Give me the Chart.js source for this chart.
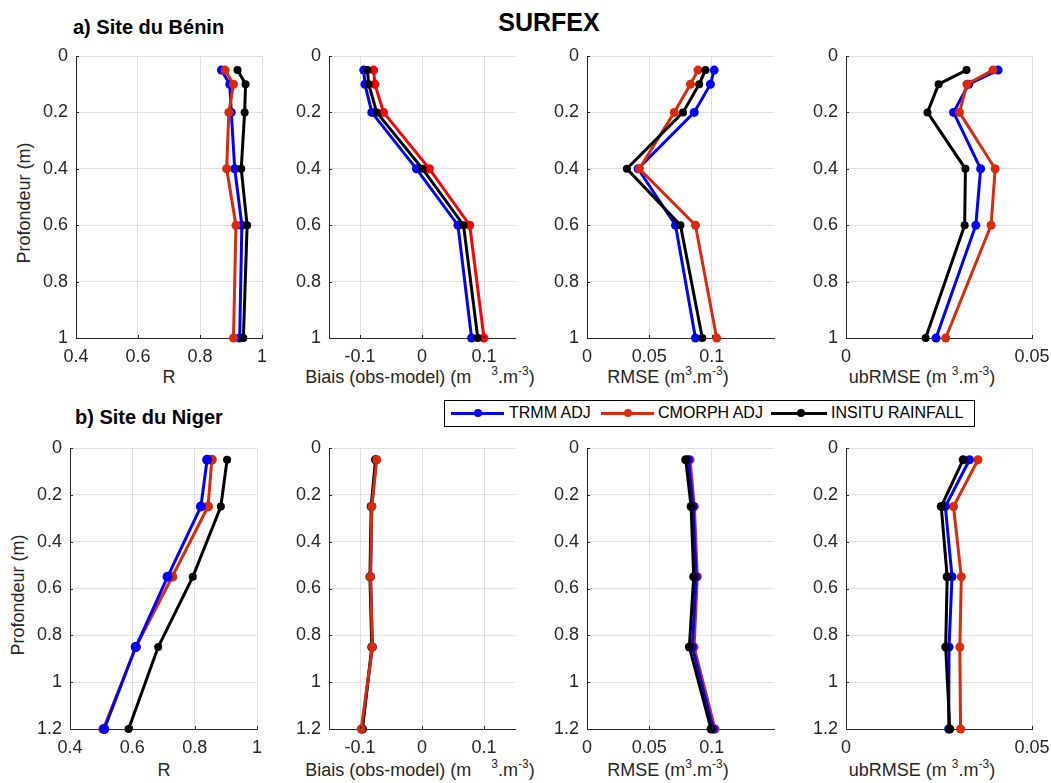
<!DOCTYPE html>
<html>
<head>
<meta charset="utf-8">
<script src="https://cdn.jsdelivr.net/npm/chart.js@4/dist/chart.umd.min.js"></script>
<style>
body { margin:0; background:#fff; width:1051px; height:783px; overflow:hidden; position:relative;
       font-family:"Liberation Sans", Arial, sans-serif; color:#262626; }
canvas { position:absolute; }
.t { position:absolute; white-space:nowrap; transform:translate(-50%,-50%); }
.big { font-weight:bold; font-size:25px; color:#000; }
.sub { font-weight:bold; font-size:20px; color:#000; transform:translate(0,-50%); }
.xl { font-size:18px; }
.yl { font-size:18px; transform:translate(-50%,-50%) rotate(-90deg); }
.sup { font-size:12px; position:relative; top:-8px; }
#legend { position:absolute; left:444px; top:400px; width:531px; height:27px; border:1px solid #000;
          box-sizing:border-box; background:#fff; font-size:16px; color:#000; }
#legend .ln { position:absolute; height:3px; top:11px; }
#legend .dot { position:absolute; width:8px; height:8px; border-radius:50%; top:8px; }
#legend .lb { position:absolute; top:3px; }
</style>
</head>
<body>
<div class="t big" style="left:549px;top:22px">SURFEX</div>
<div class="t sub" style="left:73px;top:27px">a) Site du Bénin</div>
<div class="t sub" style="left:75px;top:417px">b) Site du Niger</div>

<div class="t yl" style="left:24px;top:203px">Profondeur (m)</div>
<div class="t yl" style="left:18px;top:595px">Profondeur (m)</div>

<div class="t xl" style="left:169px;top:377px">R</div>
<div class="t xl" style="left:420px;top:377px">Biais (obs-model) (m&nbsp;&nbsp;&nbsp;&nbsp;<span class="sup">3</span>.m<span class="sup">-3</span>)</div>
<div class="t xl" style="left:668px;top:377px">RMSE (m<span class="sup">3</span>.m<span class="sup">-3</span>)</div>
<div class="t xl" style="left:922px;top:377px">ubRMSE (m <span class="sup">3</span>.m<span class="sup">-3</span>)</div>

<div class="t xl" style="left:164px;top:770px">R</div>
<div class="t xl" style="left:420px;top:770px">Biais (obs-model) (m&nbsp;&nbsp;&nbsp;&nbsp;<span class="sup">3</span>.m<span class="sup">-3</span>)</div>
<div class="t xl" style="left:668px;top:770px">RMSE (m<span class="sup">3</span>.m<span class="sup">-3</span>)</div>
<div class="t xl" style="left:922px;top:770px">ubRMSE (m <span class="sup">3</span>.m<span class="sup">-3</span>)</div>

<div id="legend">
  <div class="ln" style="left:6px;width:53px;background:#0000ff"></div>
  <div class="dot" style="left:29px;background:#0000ff"></div>
  <div class="lb" style="left:64px">TRMM ADJ</div>
  <div class="ln" style="left:156px;width:53px;background:#d92b0b"></div>
  <div class="dot" style="left:179px;background:#d92b0b"></div>
  <div class="lb" style="left:213px">CMORPH ADJ</div>
  <div class="ln" style="left:326px;width:56px;background:#000"></div>
  <div class="dot" style="left:352px;background:#000"></div>
  <div class="lb" style="left:386px">INSITU RAINFALL</div>
</div>

<script>
// profondeurs (m)
const depthBenin = [0.05, 0.1, 0.2, 0.4, 0.6, 1.0];
const depthNiger = [0.05, 0.25, 0.55, 0.85, 1.2];

// a) Bénin
const rBeninTrmm = [0.869, 0.896, 0.901, 0.912, 0.935, 0.928];
const rBeninCmorph = [0.881, 0.908, 0.893, 0.886, 0.916, 0.908];
const rBeninInsitu = [0.921, 0.947, 0.944, 0.933, 0.952, 0.940];

const biasBeninTrmm = [-0.094, -0.092, -0.081, -0.009, 0.058, 0.080];
const biasBeninCmorph = [-0.078, -0.076, -0.062, 0.012, 0.077, 0.100];
const biasBeninInsitu = [-0.088, -0.086, -0.073, 0.001, 0.067, 0.090];

const rmseBeninTrmm = [0.102, 0.099, 0.086, 0.041, 0.071, 0.087];
const rmseBeninCmorph = [0.089, 0.083, 0.070, 0.042, 0.087, 0.104];
const rmseBeninInsitu = [0.095, 0.090, 0.077, 0.032, 0.075, 0.0925];

const ubBeninTrmm = [0.0409, 0.0330, 0.0289, 0.0362, 0.0349, 0.0242];
const ubBeninCmorph = [0.0395, 0.0325, 0.0305, 0.0401, 0.0390, 0.0268];
const ubBeninInsitu = [0.0324, 0.0249, 0.0219, 0.0321, 0.0319, 0.0214];

// b) Niger
const rNigerTrmm = [0.840, 0.820, 0.713, 0.611, 0.510];
const rNigerCmorph = [0.855, 0.843, 0.728, 0.611, 0.507];
const rNigerInsitu = [0.904, 0.884, 0.794, 0.683, 0.588];

const biasNigerTrmm = [-0.074, -0.081, -0.083, -0.080, -0.097];
const biasNigerCmorph = [-0.073, -0.081, -0.083, -0.080, -0.098];
const biasNigerInsitu = [-0.075, -0.082, -0.084, -0.081, -0.096];

const rmseNigerTrmm = [0.0813, 0.0850, 0.0875, 0.0845, 0.1013];
const rmseNigerCmorph = [0.0827, 0.0861, 0.0885, 0.0859, 0.1027];
const rmseNigerInsitu = [0.0792, 0.0835, 0.0856, 0.0821, 0.0995];

const ubNigerTrmm = [0.0332, 0.0267, 0.0285, 0.0277, 0.0276];
const ubNigerCmorph = [0.0355, 0.0289, 0.0310, 0.0306, 0.0308];
const ubNigerInsitu = [0.0315, 0.0256, 0.0272, 0.0268, 0.0279];

// graduations
const rTicks = [0.4, 0.6, 0.8, 1];
const biasTicks = [-0.1, 0, 0.1];
const rmseTicks = [0, 0.05, 0.1];
const ubTicks = [0, 0.05];
const depthTicksBenin = [0, 0.2, 0.4, 0.6, 0.8, 1];
const depthTicksNiger = [0, 0.2, 0.4, 0.6, 0.8, 1, 1.2];

const BLUE = '#0000ff', RED = '#d92b0b', BLACK = '#000000';
const AXIS = '#262626', GRID = '#e0e0e0';
// marges assez larges pour que Chart.js ne déplace pas la zone de tracé
const PADL = 60, PADT = 24, PADR = 32, PADB = 34;

Chart.defaults.font.family = '"Liberation Sans", Arial, sans-serif';

// petites graduations vers l'intérieur (style MATLAB)
const innerTicks = {
  id: 'innerTicks',
  afterDraw(chart) {
    const { ctx, chartArea: a, scales: { x, y } } = chart;
    ctx.save();
    ctx.strokeStyle = AXIS;
    ctx.lineWidth = 1;
    ctx.beginPath();
    x.ticks.forEach(t => {
      const px = Math.round(x.getPixelForValue(t.value)) + 0.5;
      ctx.moveTo(px, a.bottom); ctx.lineTo(px, a.bottom - 3);
    });
    y.ticks.forEach(t => {
      const py = Math.round(y.getPixelForValue(t.value)) + 0.5;
      ctx.moveTo(a.left, py); ctx.lineTo(a.left + 3, py);
    });
    ctx.stroke();
    ctx.restore();
  }
};

const fmt = v => String(Math.round(v * 1000) / 1000);

function serie(xs, ys, color, radius, order) {
  return {
    data: xs.map((v, i) => ({ x: v, y: ys[i] })),
    showLine: true,
    borderColor: color,
    backgroundColor: color,
    borderWidth: 3,
    pointRadius: radius,
    pointBorderWidth: 0,
    pointBackgroundColor: color,
    clip: false,
    order: order
  };
}

function panel(box, depths, yTicks, yMax, xMin, xMax, xTicks, sets) {
  const [l, t, r, b] = box;
  const c = document.createElement('canvas');
  c.width = (r - l) + PADL + PADR;
  c.height = (b - t) + PADT + PADB;
  c.style.left = (l - PADL) + 'px';
  c.style.top = (t - PADT) + 'px';
  document.body.appendChild(c);

  const tickFont = { size: 18 };
  new Chart(c, {
    type: 'scatter',
    data: { datasets: sets.map(s => serie(s[0], depths, s[1], s[2], s[3])) },
    options: {
      responsive: false,
      animation: false,
      events: [],
      layout: { padding: { left: 0, top: PADT, right: PADR, bottom: 0 } },
      plugins: { legend: { display: false }, tooltip: { enabled: false } },
      scales: {
        x: {
          type: 'linear', min: xMin, max: xMax,
          afterBuildTicks: s => { s.ticks = xTicks.map(v => ({ value: v })); },
          afterFit: s => { s.height = PADB; },
          grid: { color: GRID, drawTicks: false },
          border: { color: AXIS },
          ticks: { padding: 8, font: tickFont, color: AXIS, maxRotation: 0, autoSkip: false, callback: fmt }
        },
        y: {
          type: 'linear', min: 0, max: yMax, reverse: true,
          afterBuildTicks: s => { s.ticks = yTicks.map(v => ({ value: v })); },
          afterFit: s => { s.width = PADL; },
          grid: { color: GRID, drawTicks: false },
          border: { color: AXIS },
          ticks: { padding: 8, font: tickFont, color: AXIS, autoSkip: false, callback: fmt }
        }
      }
    },
    plugins: [innerTicks]
  });
}

// ligne a) Bénin
const rowA = [56, 338];
panel([76, rowA[0], 262, rowA[1]], depthBenin, depthTicksBenin, 1, 0.4, 1, rTicks,
  [[rBeninTrmm, BLUE, 4.5, 3], [rBeninCmorph, RED, 4.5, 2], [rBeninInsitu, BLACK, 4, 1]]);
panel([329, rowA[0], 515, rowA[1]], depthBenin, depthTicksBenin, 1, -0.15, 0.15, biasTicks,
  [[biasBeninTrmm, BLUE, 4.5, 3], [biasBeninCmorph, '#ff0000', 4.5, 2], [biasBeninInsitu, BLACK, 4, 1]]);
panel([587, rowA[0], 774, rowA[1]], depthBenin, depthTicksBenin, 1, 0, 0.15, rmseTicks,
  [[rmseBeninTrmm, BLUE, 4.5, 3], [rmseBeninCmorph, RED, 4.5, 2], [rmseBeninInsitu, BLACK, 4, 1]]);
panel([846, rowA[0], 1032, rowA[1]], depthBenin, depthTicksBenin, 1, 0, 0.05, ubTicks,
  [[ubBeninTrmm, BLUE, 4.5, 3], [ubBeninCmorph, RED, 4.5, 2], [ubBeninInsitu, BLACK, 4, 1]]);

// ligne b) Niger
const rowB = [448, 729];
panel([70, rowB[0], 257, rowB[1]], depthNiger, depthTicksNiger, 1.2, 0.4, 1, rTicks,
  [[rNigerTrmm, BLUE, 5, 2], [rNigerCmorph, RED, 5, 3], [rNigerInsitu, BLACK, 4, 1]]);
panel([329, rowB[0], 515, rowB[1]], depthNiger, depthTicksNiger, 1.2, -0.15, 0.15, biasTicks,
  [[biasNigerTrmm, BLUE, 4.5, 3], [biasNigerCmorph, RED, 4.5, 0], [biasNigerInsitu, BLACK, 4.5, 1]]);
panel([587, rowB[0], 774, rowB[1]], depthNiger, depthTicksNiger, 1.2, 0, 0.15, rmseTicks,
  [[rmseNigerTrmm, BLUE, 4.5, 2], [rmseNigerCmorph, RED, 4.5, 3], [rmseNigerInsitu, BLACK, 4.5, 1]]);
panel([846, rowB[0], 1032, rowB[1]], depthNiger, depthTicksNiger, 1.2, 0, 0.05, ubTicks,
  [[ubNigerTrmm, BLUE, 4.5, 2], [ubNigerCmorph, RED, 4.5, 3], [ubNigerInsitu, BLACK, 4.5, 1]]);
</script>
</body>
</html>
